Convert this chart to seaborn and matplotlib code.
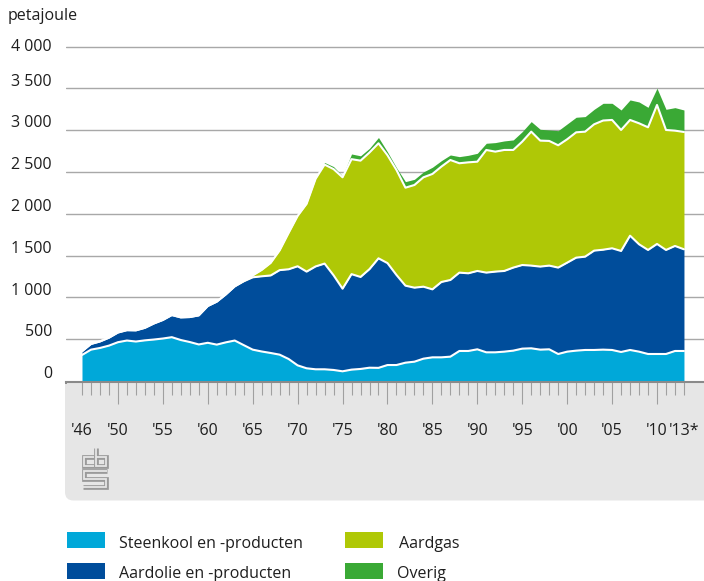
import matplotlib
matplotlib.use("Agg")
import matplotlib.pyplot as plt
import matplotlib.transforms as mtransforms
from matplotlib.patches import Rectangle, FancyBboxPatch
from matplotlib.lines import Line2D
import numpy as np
import pandas as pd
import seaborn as sns

# Energy consumption in the Netherlands by carrier (petajoule), 1946-2013*
years = list(range(1946, 2014))

steenkool = [311, 375, 395, 423, 464, 484, 472, 486, 496, 508,
             524, 490, 466, 437, 457, 435, 462, 484, 429, 375,
             353, 335, 315, 263, 187, 152, 140, 140, 132, 116,
             136, 144, 159, 157, 191, 191, 219, 231, 267, 283,
             283, 291, 359, 359, 379, 343, 343, 351, 363, 387,
             391, 375, 379, 323, 351, 363, 371, 371, 375, 371,
             347, 371, 351, 323, 323, 323, 359, 359]

aardolie = [44, 68, 78, 95, 116, 124, 134, 150, 192, 222,
            265, 271, 299, 348, 440, 514, 573, 648, 763, 865,
            899, 927, 1011, 1073, 1185, 1156, 1230, 1264, 1132, 988,
            1142, 1100, 1179, 1310, 1219, 1077, 921, 885, 861, 813,
            901, 917, 937, 929, 937, 953, 965, 965, 993, 1000,
            989, 993, 1001, 1033, 1064, 1112, 1116, 1188, 1195, 1216,
            1208, 1367, 1284, 1244, 1316, 1244, 1256, 1216]

aardgas = [0] * 18 + [5, 22,
           76, 150, 236, 435, 602, 811, 1048, 1184, 1270, 1332,
           1375, 1391, 1395, 1376, 1290, 1256, 1172, 1228, 1308, 1380,
           1380, 1435, 1308, 1327, 1307, 1467, 1435, 1447, 1407, 1476,
           1602, 1507, 1491, 1463, 1476, 1499, 1495, 1511, 1545, 1535,
           1447, 1384, 1447, 1467, 1662, 1435, 1379, 1403]

overig = [0] * 27 + [25, 30, 16,
          62, 58, 50, 69, 40, 28, 72, 68, 64, 80,
          71, 60, 79, 84, 100, 80, 108, 108, 120, 119,
          120, 135, 131, 175, 183, 180, 180, 179, 206, 199,
          239, 239, 255, 239, 200, 247, 275, 263]

series_names = ["Steenkool en -producten", "Aardolie en -producten", "Aardgas", "Overig"]
series_colors = ["#00a8d9", "#004d9b", "#afc806", "#3aa935"]

y_ticks = [0, 500, 1000, 1500, 2000, 2500, 3000, 3500, 4000]
y_tick_labels = ["0", "500", "1 000", "1 500", "2 000", "2 500", "3 000", "3 500", "4 000"]
x_label_years = [1946, 1950, 1955, 1960, 1965, 1970, 1975, 1980, 1985, 1990,
                 1995, 2000, 2005, 2010, 2013]
x_labels = ["'46", "'50", "'55", "'60", "'65", "'70", "'75", "'80", "'85", "'90",
            "'95", "'00", "'05", "'10", "'13*"]

df = pd.DataFrame({"jaar": years, series_names[0]: steenkool, series_names[1]: aardolie,
                   series_names[2]: aardgas, series_names[3]: overig})

sns.set_theme(style="white")
plt.rcParams["font.family"] = ["Open Sans", "DejaVu Sans"]
TEXT = "#1e1e1e"
FS = 11.5

W, H = 704, 581
fig = plt.figure(figsize=(W / 100, H / 100), dpi=100)
fig.patch.set_facecolor("white")


def fx(px):
    return px / W


def fy(py):
    return 1 - py / H


# plot area: x in years, y in petajoule
y_bottom, y_top = -12, 4078
ax = fig.add_axes([fx(66), fy(382.0), fx(704) - fx(66), fy(40) - fy(382.0)])
ax.set_facecolor("none")
ax.set_xlim(1944.22, 2015.23)
ax.set_ylim(y_bottom, y_top)

# horizontal gridlines
for v in y_ticks[1:]:
    ax.axhline(v, color="#a8a8a8", lw=1.0, zorder=0.5)

# stacked areas
x = np.array(df["jaar"], dtype=float)
base = np.zeros(len(x))
tops = []
for name, col in zip(series_names, series_colors):
    top = base + df[name].to_numpy(dtype=float)
    ax.fill_between(x, base, top, color=col, lw=0, zorder=2)
    tops.append(top)
    base = top

# white separators between the layers
for top in tops[:3]:
    sns.lineplot(x=x, y=top, color="white", lw=1.5, ax=ax, zorder=3,
                 estimator=None, sort=False)

# axis styling
for side in ["top", "right", "left"]:
    ax.spines[side].set_visible(False)
ax.spines["bottom"].set_color("#8a8a8a")
ax.spines["bottom"].set_linewidth(1.5)
ax.spines["bottom"].set_zorder(4)
ax.set_xticks(list(range(1950, 2011, 5)))
ax.set_xticks(years, minor=True)
ax.tick_params(axis="x", which="major", bottom=True, length=16, width=0.8, color="#a0a0a0",
               direction="out", labelbottom=False)
ax.tick_params(axis="x", which="minor", bottom=True, length=9, width=0.8, color="#a0a0a0",
               direction="out", labelbottom=False)
ax.set_yticks([])
ax.set_xlabel("")
ax.set_ylabel("")

# x labels
bt = mtransforms.blended_transform_factory(ax.transData, fig.transFigure)
for yr, lab in zip(x_label_years, x_labels):
    ax.text(yr, fy(435), lab, transform=bt, ha="center", va="baseline",
            fontsize=FS, color=TEXT, clip_on=False)

# y labels
yt = mtransforms.blended_transform_factory(fig.transFigure, ax.transData)
px_per_pj = (382.0 - 40) / (y_top - y_bottom)
for v, lab in zip(y_ticks, y_tick_labels):
    if v == 4000:
        yy = v - 4.0 / px_per_pj
    else:
        yy = v + 2.8 / px_per_pj
    ax.text(fx(52), yy, lab, transform=yt, ha="right", va="baseline",
            fontsize=FS, color=TEXT, clip_on=False)

fig.text(fx(8), fy(20), "petajoule", ha="left", va="baseline", fontsize=FS, color=TEXT)

# grey footer band under the axis
band = "#e6e6e6"
fig.patches.append(FancyBboxPatch((fx(65), fy(500.5)), fx(720) - fx(65), fy(383) - fy(500.5),
                                  boxstyle="round,pad=0,rounding_size=0.012",
                                  transform=fig.transFigure, facecolor=band,
                                  edgecolor="none", zorder=-5, mutation_aspect=W / H))
fig.patches.append(Rectangle((fx(65), fy(470)), fx(720) - fx(65), fy(383) - fy(470),
                             transform=fig.transFigure, facecolor=band,
                             edgecolor="none", zorder=-4))
fig.patches.append(Rectangle((fx(65), fy(384)), fx(66) - fx(65) + 0.0015, fy(381) - fy(384),
                             transform=fig.transFigure, facecolor="#8a8a8a",
                             edgecolor="none", zorder=-3))


# cbs logo
def logo_stroke(pts):
    xs = [fx(p[0]) for p in pts]
    ys = [fy(p[1]) for p in pts]
    fig.add_artist(Line2D(xs, ys, transform=fig.transFigure, color="#9a9a9a",
                          lw=3.4, solid_joinstyle="miter", solid_capstyle="butt", zorder=6))
    fig.add_artist(Line2D(xs, ys, transform=fig.transFigure, color=band,
                          lw=1.3, solid_joinstyle="miter", solid_capstyle="butt", zorder=7))


logo_stroke([(93.5, 456.5), (83.5, 456.5), (83.5, 466), (93.5, 466)])
logo_stroke([(95.5, 448), (95.5, 466), (106, 466), (106, 456.5), (95.5, 456.5)])
logo_stroke([(106.5, 470.5), (83.5, 470.5), (83.5, 478.5), (106, 478.5), (106, 486.5), (83, 486.5)])

# legend
legend_items = [
    (series_names[0], series_colors[0], 67, 532, 119),
    (series_names[1], series_colors[1], 67, 563, 119),
    (series_names[2], series_colors[2], 345, 532, 399),
    (series_names[3], series_colors[3], 345, 563, 397),
]
for name, col, bx, by, tx in legend_items:
    fig.patches.append(Rectangle((fx(bx), fy(by + 16)), fx(bx + 38) - fx(bx), fy(by) - fy(by + 16),
                                 transform=fig.transFigure, facecolor=col, edgecolor="none"))
    fig.text(fx(tx), fy(by + 15.5), name, ha="left", va="baseline", fontsize=FS, color=TEXT)

fig.savefig("out.png", dpi=100)
